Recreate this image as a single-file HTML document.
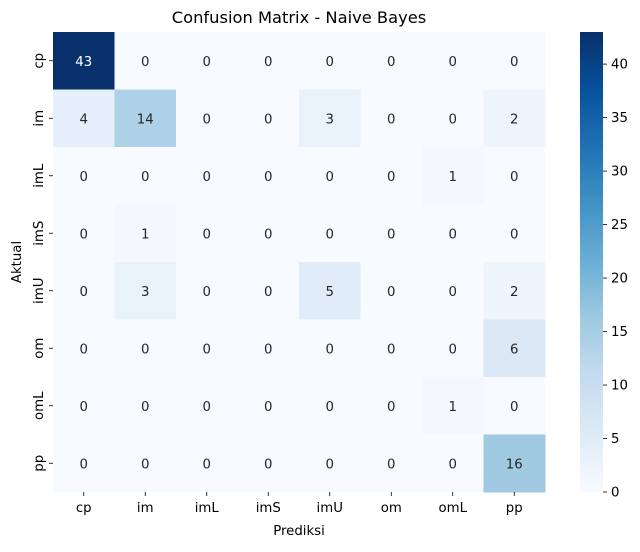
<!DOCTYPE html>
<html><head><meta charset="utf-8"><style>
body{margin:0;background:#fff;font-family:"Liberation Sans","DejaVu Sans",sans-serif;}
svg text{font-family:"DejaVu Sans","Liberation Sans",sans-serif;}
</style></head><body>
<svg id="chart" width="640" height="547" xmlns="http://www.w3.org/2000/svg">
<text x="299" y="23" text-anchor="middle" font-size="16.3" fill="#000">Confusion Matrix - Naive Bayes</text>
<text x="299" y="535" text-anchor="middle" font-size="13.3" fill="#000">Prediksi</text>
<text x="21" y="262" text-anchor="middle" font-size="13.3" fill="#000" transform="rotate(-90 21 262)">Aktual</text>
<g id="cells"></g><g id="xt"></g><g id="yt"></g>
<defs><linearGradient id="cbg" x1="0" y1="1" x2="0" y2="0">
<stop offset="0" stop-color="#f7fbff"/><stop offset="0.125" stop-color="#deebf7"/><stop offset="0.25" stop-color="#c6dbef"/><stop offset="0.375" stop-color="#9ecae1"/><stop offset="0.5" stop-color="#6baed6"/><stop offset="0.625" stop-color="#4292c6"/><stop offset="0.75" stop-color="#2171b5"/><stop offset="0.875" stop-color="#08519c"/><stop offset="1" stop-color="#08306b"/></linearGradient></defs>
<rect x="580" y="32" width="23" height="460" fill="url(#cbg)"/>
<g id="cbt"></g>
</svg>
<script>
const labels=["cp","im","imL","imS","imU","om","omL","pp"];
const matrix=[
[43,0,0,0,0,0,0,0],
[4,14,0,0,3,0,0,2],
[0,0,0,0,0,0,1,0],
[0,1,0,0,0,0,0,0],
[0,3,0,0,5,0,0,2],
[0,0,0,0,0,0,0,6],
[0,0,0,0,0,0,1,0],
[0,0,0,0,0,0,0,16]];
const cbTicks=[0,5,10,15,20,25,30,35,40];
const vmin=0,vmax=43;
const stops=["#f7fbff","#deebf7","#c6dbef","#9ecae1","#6baed6","#4292c6","#2171b5","#08519c","#08306b"];
const NS="http://www.w3.org/2000/svg";
const X0=53,Y0=32,CW=61.5,CH=57.5;
function hex(h){return [1,3,5].map(i=>parseInt(h.substr(i,2),16));}
function color(v){let t=(v-vmin)/(vmax-vmin);t=Math.max(0,Math.min(1,t))*8;const i=Math.min(7,Math.floor(t)),f=t-i;const a=hex(stops[i]),b=hex(stops[i+1]);return "rgb("+a.map((c,k)=>Math.round(c+(b[k]-c)*f)).join(",")+")";}
function mk(tag,attrs,parent){const e=document.createElementNS(NS,tag);for(const k in attrs)e.setAttribute(k,attrs[k]);parent.appendChild(e);return e;}
const cells=document.getElementById("cells");
matrix.forEach((row,r)=>row.forEach((v,c)=>{
 const rc=mk("rect",{x:X0+c*CW,y:Y0+r*CH,width:CW+0.5,height:CH+0.5,fill:color(v)},cells);
 
 
 const t=mk("text",{x:X0+c*CW+CW/2,y:Y0+r*CH+CH/2+5,"text-anchor":"middle","font-size":"13.3",fill:(v-vmin)/(vmax-vmin)>0.5?"#fff":"#262626"},cells);
 t.textContent=v;
 
 
}));
const xt=document.getElementById("xt"),yt=document.getElementById("yt");
labels.forEach((l,i)=>{
 const cx=X0+i*CW+CW/2;
 mk("line",{x1:cx,x2:cx,y1:492,y2:496,stroke:"#000","stroke-width":"0.8"},xt);
 const t=mk("text",{x:cx,y:512,"text-anchor":"middle","font-size":"13.3",fill:"#000"},xt);t.textContent=l;
 
 
 const cy=Y0+i*CH+CH/2;
 mk("line",{x1:49,x2:53,y1:cy,y2:cy,stroke:"#000","stroke-width":"0.8"},yt);
 const u=mk("text",{x:43,y:cy,"text-anchor":"middle","font-size":"13.3",fill:"#000",transform:"rotate(-90 43 "+cy+")"},yt);u.textContent=l;
 
 
});
const cbt=document.getElementById("cbt");
cbTicks.forEach(v=>{
 const y=492-(v-vmin)/(vmax-vmin)*460;
 mk("line",{x1:603,x2:607,y1:y,y2:y,stroke:"#000","stroke-width":"0.8"},cbt);
 const t=mk("text",{x:611,y:y+4.5,"font-size":"13.3",fill:"#000"},cbt);t.textContent=v;
 
 
});
</script>
</body></html>
